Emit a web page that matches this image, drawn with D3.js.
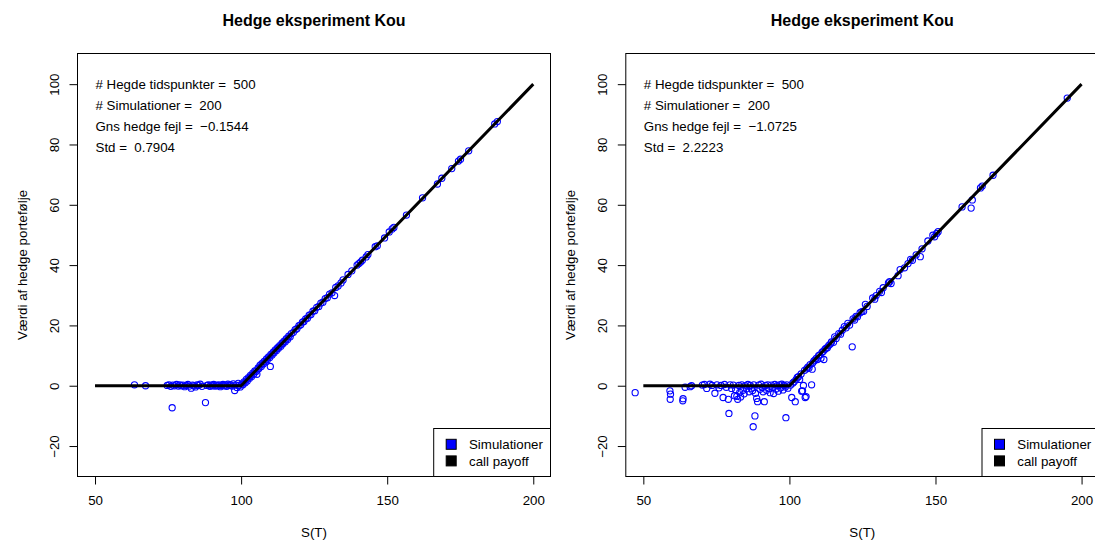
<!DOCTYPE html>
<html>
<head>
<meta charset="utf-8">
<script src="https://cdn.jsdelivr.net/npm/d3@7"></script>
<style>
  html, body { margin: 0; padding: 0; background: #fff; }
  svg { display: block; font-family: "Liberation Sans", Arial, Helvetica, sans-serif; }
  text { white-space: pre; }
</style>
</head>
<body>
<svg id="chart" width="1095" height="542"></svg>
<script>
// ---- Data: terminal stock price S(T) and value of the hedge portfolio ----
// Panel 1
const stockA = [
  63.5, 67.3,
  74.7, 75.3, 75.9, 76.4, 76.6, 77.2, 77.9, 78.5, 79.0, 79.6, 80.1, 80.7, 81.2, 81.8, 82.3, 82.9, 83.4, 83.9,
  84.4, 84.9, 85.4, 86.0, 86.6, 87.8,
  88.3, 88.8, 89.3, 89.7, 90.2, 90.6, 91.1, 91.5, 92.0, 92.4, 92.9, 93.3, 93.8, 94.2, 94.7, 95.1, 95.5, 96.0,
  96.4, 96.9, 97.3, 97.8, 98.2, 98.6, 99.0, 99.3, 99.7,
  100.2, 100.6, 101.0, 101.4, 101.8, 102.1, 102.5, 102.9, 103.2, 103.6, 104.0, 104.3, 104.7, 105.1, 105.4,
  105.8, 106.1, 106.5, 106.9, 107.2, 107.6, 107.9, 108.3, 108.7, 109.0, 109.4, 109.8, 110.0, 110.2, 110.6,
  111.0, 111.3, 111.7, 112.1, 112.5, 112.8, 113.2, 113.6, 114.0, 114.3, 114.7, 115.1, 115.5, 115.9, 116.3,
  116.8, 117.2, 117.9, 118.5, 119.1, 119.8, 120.4, 121.0, 121.5, 122.1, 122.7, 123.3, 123.9, 124.6, 125.2,
  125.9, 126.6, 127.3, 128.0, 128.8, 129.5, 130.3, 131.1, 132.0, 132.4, 133.2, 134.2, 134.9, 136.6, 137.9,
  139.7, 140.3, 140.9, 141.5, 142.8, 143.4, 145.9, 146.6, 149.1, 150.7, 151.7, 152.3, 156.6, 162.1, 167.2,
  168.7, 172.1, 174.4, 175.1, 177.9, 186.8, 187.7
];
const hedgeA = [
  0.3, 0.0,
  0.1, 0.3, -0.2, -7.3, 0.2, 0.0, 0.4, -0.1, 0.3, 0.0, 0.2, -0.3, 0.1, 0.4, -0.1, -0.8, 0.2, 0.0,
  -0.4, 0.3, 0.1, 0.5, -0.2, -5.6,
  0.1, 0.3, -0.2, 0.2, 0.0, 0.4, -0.1, 0.2, 0.0, 0.3, -0.3, 0.1, 0.4, 0.0, 0.2, -0.2, 0.5, 0.1,
  0.3, -0.1, 0.6, -1.6, 0.2, -0.6, 0.8, 0.1, -0.4,
  0.5, 0.3, 1.3, 1.0, 2.1, 1.6, 2.7, 2.5, 3.4, 3.1, 4.2, 3.8, 4.9, 4.7, 3.8,
  5.9, 5.7, 6.8, 6.4, 7.4, 7.2, 8.1, 7.9, 8.9, 8.6, 9.6, 9.4, 6.4, 10.4, 10.2,
  11.1, 10.9, 11.9, 11.7, 12.6, 12.4, 13.3, 13.1, 14.1, 13.9, 14.8, 14.6, 15.6, 15.3, 16.4,
  16.2, 17.3, 17.7, 18.6, 18.9, 19.9, 20.2, 21.1, 21.3, 22.2, 22.4, 23.4, 23.6, 24.7, 24.9,
  26.0, 26.3, 27.4, 27.7, 28.9, 29.2, 30.4, 30.8, 29.9, 32.6, 33.1, 34.1, 35.1, 36.9, 38.1,
  40.0, 40.5, 41.0, 41.6, 42.7, 43.5, 46.1, 46.4, 49.0, 51.0, 52.0, 52.5, 56.6, 62.3, 66.9,
  68.8, 72.0, 74.5, 75.1, 77.9, 86.8, 87.6
];

// Panel 2
const stockB = [
  47.2, 59.1, 59.3, 59.2, 63.5, 63.6, 64.3, 66.0, 66.5,
  70.2, 70.9, 71.7, 72.8, 73.5, 74.5, 75.2, 75.9, 76.6, 77.3, 77.8, 78.4, 79.1, 79.3, 79.7, 80.2, 80.8,
  81.2, 81.6, 82.0, 82.3, 82.7, 83.0, 83.3, 83.7, 84.1, 84.5, 84.9, 85.3, 85.8, 86.2, 86.6, 87.0, 87.4,
  87.6, 87.8, 88.2, 88.4, 88.8, 89.1, 89.5, 89.9, 90.3, 90.7, 91.0, 91.4, 91.8, 92.2, 92.6, 93.0, 93.4,
  93.8, 94.2, 94.6, 95.0, 95.4, 95.8, 96.2, 96.6, 97.0, 97.4, 97.8, 98.2, 98.6, 98.8, 99.1, 99.5,
  100.4, 100.8, 101.2, 101.6, 102.0, 102.3, 102.7, 103.1, 103.5, 104.0, 104.2, 104.5, 104.8, 105.2, 105.4,
  105.7, 105.9, 106.3, 106.7, 107.1, 107.6, 107.8, 108.0, 108.4, 108.8, 109.2, 109.6, 110.0, 110.4, 110.8,
  111.2, 111.6, 111.8, 112.2, 112.6, 113.0, 113.5, 114.0, 114.4, 115.1, 115.5, 116.0, 116.9, 117.5, 118.1,
  118.8, 119.4, 120.0, 120.6, 121.5, 121.8, 122.3, 122.8, 123.3, 124.2, 124.8, 125.4, 126.0, 126.6, 128.5,
  129.2, 129.7, 130.9, 131.5, 132.1, 133.9, 134.3, 134.8, 137.2, 137.9, 139.4, 140.6, 141.5, 142.1, 143.4,
  144.8, 145.4, 147.4, 149.1, 149.7, 150.4, 150.9, 159.1, 162.2, 162.6, 165.4, 166.0, 169.7, 195.1
];
const hedgeB = [
  -2.3, -1.7, -2.8, -4.5, -5.0, -4.3, -0.5, -0.3, 0.0,
  0.2, 0.4, -0.9, 0.5, 0.1, -2.5, 0.3, -0.7, 0.1, -3.9, 0.4, -0.5, -4.5, -9.2, 0.3, -0.9, 0.2,
  -3.3, -1.3, -3.5, -4.5, 0.1, -2.2, -3.7, 0.3, -1.5, -2.7, 0.0, -1.0, 0.4, -2.0, 0.1, -0.8, -1.6,
  -13.6, 0.3, -10.0, -2.5, -4.2, -5.3, 0.2, -1.2, 0.5, -0.6, -2.0, -5.3, 0.1, -1.5, 0.3, -0.9, -2.3,
  0.2, -0.5, -2.6, 0.4, -1.1, 0.0, -1.8, 0.3, -0.7, 0.5, -1.4, 0.1, -0.4, -10.6, 0.3, -0.8,
  0.2, -3.9, 0.9, 1.3, -5.3, 2.0, 2.8, 3.0, 2.1, 3.9, -1.8, -1.7, 0.1, 5.1, -3.9,
  -3.6, 5.6, 6.2, 5.9, 7.0, 0.3, 5.5, 7.6, 8.2, 8.5, 9.1, 8.7, 10.0, 10.2, 9.1,
  11.1, 11.4, 8.7, 12.1, 12.5, 12.6, 13.4, 13.8, 14.5, 14.4, 16.2, 15.7, 17.3, 17.1, 18.4,
  19.6, 19.2, 20.7, 20.1, 12.9, 22.2, 21.8, 23.0, 22.9, 24.2, 24.6, 24.7, 27.0, 26.3, 29.1,
  28.7, 29.9, 31.3, 30.9, 32.5, 34.1, 34.5, 33.9, 36.5, 38.5, 39.1, 40.5, 41.9, 41.6, 43.4,
  42.8, 45.4, 48.0, 49.9, 49.4, 50.5, 51.1, 59.3, 58.9, 61.6, 65.6, 66.2, 69.8, 95.4
];

// Call payoff max(S - 100, 0) at its break points
const payoffStock = [50, 100, 200];
const payoffValue = [0, 0, 100];

// Summary statistics printed in each panel
const hedgeTimes = [500, 500];
const nSims = [200, 200];
const meanError = ["−0.1544", "−1.0725"];
const stdError = ["0.7904", "2.2223"];

const xTicks = [50, 100, 150, 200];
const yTicks = [-20, 0, 20, 40, 60, 80, 100];
const legendLabels = ["Simulationer", "call payoff"];
const legendColors = ["#0000ff", "#000000"];

const titleText = "Hedge eksperiment Kou";
const xLabel = "S(T)";
const yLabel = "Værdi af hedge portefølje";

// ---- Drawing ----
const svg = d3.select("#chart");
const panelOffsets = [0, 548.3];
const panels = [
  { stock: stockA, hedge: hedgeA },
  { stock: stockB, hedge: hedgeB }
];

const x = d3.scaleLinear().domain([44, 206]).range([77.5, 550.8]);
const y = d3.scaleLinear().domain([-30.2, 110.2]).range([476.8, 53.4]);
const box = { l: 77.5, r: 550.5, t: 53.5, b: 476.5 };

panels.forEach((p, i) => {
  const g = svg.append("g").attr("transform", `translate(${panelOffsets[i]},0)`);

  // title
  g.append("text")
    .attr("x", (box.l + box.r) / 2).attr("y", 26)
    .attr("text-anchor", "middle")
    .attr("font-weight", "bold").attr("font-size", 16)
    .text(titleText);

  // simulated hedge values (open circles)
  g.append("g").selectAll("circle")
    .data(p.stock.map((s, k) => [s, p.hedge[k]]))
    .join("circle")
    .attr("cx", d => x(d[0])).attr("cy", d => y(d[1]))
    .attr("r", 3.1)
    .attr("fill", "none").attr("stroke", "#0000ff").attr("stroke-width", 1.1);

  // call payoff
  g.append("path")
    .datum(payoffStock.map((s, k) => [s, payoffValue[k]]))
    .attr("d", d3.line().x(d => x(d[0])).y(d => y(d[1])))
    .attr("fill", "none").attr("stroke", "#000").attr("stroke-width", 3);

  // x axis
  const xa = g.append("g").attr("transform", `translate(0,${box.b})`)
    .call(d3.axisBottom(x).tickValues(xTicks).tickSize(8).tickPadding(11.5).tickFormat(d3.format("d")));
  xa.select(".domain").remove();
  xa.selectAll("text").attr("font-size", 13.3).attr("fill", "#000").attr("font-family", null);
  xa.selectAll("line").attr("stroke", "#000");

  // y axis (labels parallel to the axis)
  const ya = g.append("g").attr("transform", `translate(${box.l},0)`)
    .call(d3.axisLeft(y).tickValues(yTicks).tickSize(8).tickFormat(d3.format("d")));
  ya.select(".domain").remove();
  ya.selectAll("line").attr("stroke", "#000");
  ya.selectAll("text")
    .attr("font-size", 13.3).attr("fill", "#000").attr("font-family", null)
    .attr("x", null).attr("dy", null)
    .attr("transform", "rotate(-90)")
    .attr("y", -19)
    .attr("text-anchor", "middle");

  // plot frame
  g.append("rect")
    .attr("x", box.l).attr("y", box.t)
    .attr("width", box.r - box.l).attr("height", box.b - box.t)
    .attr("fill", "none").attr("stroke", "#000").attr("stroke-width", 1);

  // axis titles
  g.append("text")
    .attr("x", (box.l + box.r) / 2).attr("y", 536.5)
    .attr("text-anchor", "middle").attr("font-size", 13.3)
    .text(xLabel);
  g.append("text")
    .attr("transform", `translate(27,${(box.t + box.b) / 2}) rotate(-90)`)
    .attr("text-anchor", "middle").attr("font-size", 13.3)
    .text(yLabel);

  // summary statistics
  const stats = [
    `# Hegde tidspunkter =  ${hedgeTimes[i]}`,
    `# Simulationer =  ${nSims[i]}`,
    `Gns hedge fejl =  ${meanError[i]}`,
    `Std =  ${stdError[i]}`
  ];
  g.append("g").selectAll("text")
    .data(stats)
    .join("text")
    .attr("x", x(50) + 0.5)
    .attr("y", (d, k) => y(100 - 7 * k))
    .attr("dy", "0.35em")
    .attr("font-size", 13.3)
    .text(d => d);

  // legend
  const lg = g.append("g");
  const legLeft = box.r - 116.8, legTop = 428.5;
  lg.append("rect")
    .attr("x", legLeft).attr("y", legTop)
    .attr("width", box.r - legLeft).attr("height", box.b - legTop)
    .attr("fill", "#fff").attr("stroke", "#000").attr("stroke-width", 1);
  legendLabels.forEach((lab, k) => {
    const cy = legTop + 15.8 + k * 16.6;
    lg.append("rect")
      .attr("x", legLeft + 12.5).attr("y", cy - 5)
      .attr("width", 10).attr("height", 10)
      .attr("fill", legendColors[k]).attr("stroke", "#000").attr("stroke-width", 1);
    lg.append("text")
      .attr("x", legLeft + 35.3).attr("y", cy)
      .attr("dy", "0.35em").attr("font-size", 13.3)
      .text(lab);
  });
});
</script>
</body>
</html>
